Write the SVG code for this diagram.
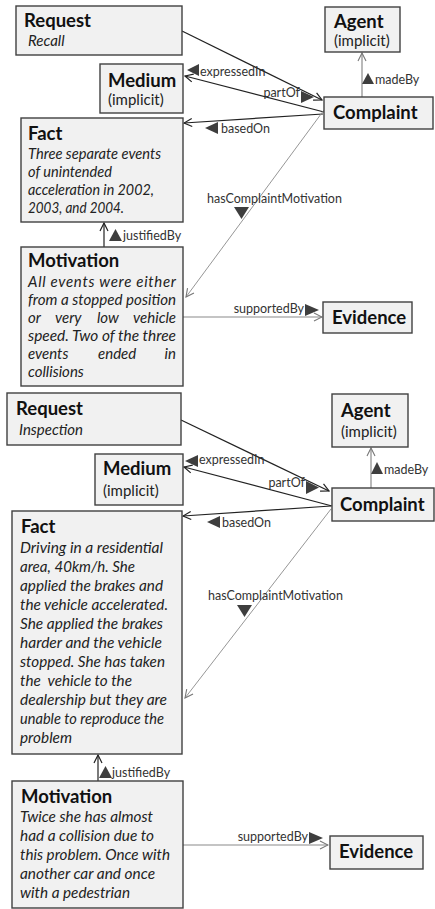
<svg xmlns="http://www.w3.org/2000/svg" width="435" height="909" viewBox="0 0 435 909">
  <style>
    .bg { fill: #ffffff; }
    .box { fill: #f1f1f1; stroke: #404040; stroke-width: 1.4; }
    .title { font-family: Lato, "Liberation Sans", sans-serif; font-weight: bold; font-size: 18.5px; fill: #111; }
    .sub { font-family: Lato, "Liberation Sans", sans-serif; font-size: 15px; fill: #222; }
    .body { font-family: Lato, "Liberation Sans", sans-serif; font-style: italic; font-size: 15px; fill: #222; }
    .lbl { font-family: Lato, "Liberation Sans", sans-serif; font-size: 12.5px; fill: #333; }
    .dark { fill: none; stroke: #222; stroke-width: 1.2; }
    .grey { fill: none; stroke: #8a8a8a; stroke-width: 1.2; }
    .thin { fill: none; stroke: #8a8a8a; stroke-width: 0.9; }
    .tri { fill: #3e3e3e; }
  </style>
  <defs>
    <marker id="openDark" viewBox="0 0 10 10" refX="9" refY="5" markerWidth="10" markerHeight="10" markerUnits="userSpaceOnUse" orient="auto">
      <path d="M1,1 L9,5 L1,9" fill="none" stroke="#222" stroke-width="1.2"/>
    </marker>
    <marker id="openGrey" viewBox="0 0 10 10" refX="9" refY="5" markerWidth="10" markerHeight="10" markerUnits="userSpaceOnUse" orient="auto">
      <path d="M1,1 L9,5 L1,9" fill="none" stroke="#777" stroke-width="1.1"/>
    </marker>
  </defs>
  <rect class="bg" x="0" y="0" width="435" height="909"/>

  <!-- ===== Recall case ===== -->
  <g id="connectors-recall">
    <line class="dark" x1="182" y1="31" x2="322" y2="100" marker-end="url(#openDark)"/>
    <text class="lbl" x="300" y="97" text-anchor="end">partOf</text>
    <polygon class="tri" points="301,91 314,97 301,103"/>

    <line class="dark" x1="324" y1="112" x2="185" y2="76" marker-end="url(#openDark)"/>
    <polygon class="tri" points="187,70 199,64 199,76"/>
    <text class="lbl" x="200" y="76">expressedIn</text>

    <line class="grey" x1="362" y1="97" x2="362" y2="53" marker-end="url(#openGrey)"/>
    <polygon class="tri" points="362,84 368,73 374,84"/>
    <text class="lbl" x="375" y="84">madeBy</text>

    <line class="dark" x1="323" y1="114" x2="184" y2="123" marker-end="url(#openDark)"/>
    <polygon class="tri" points="205,128 218,122 218,134"/>
    <text class="lbl" x="221" y="133">basedOn</text>

    <line class="thin" x1="324" y1="110" x2="186" y2="297" marker-end="url(#openGrey)"/>
    <text class="lbl" x="207" y="203">hasComplaintMotivation</text>
    <polygon class="tri" points="234,207 249,207 241.5,219"/>

    <line class="dark" x1="104" y1="247" x2="104" y2="223" marker-end="url(#openDark)"/>
    <polygon class="tri" points="109,241 115.5,229 122,241"/>
    <text class="lbl" x="123" y="240">justifiedBy</text>

    <line class="grey" x1="183" y1="317" x2="322" y2="317" marker-end="url(#openGrey)"/>
    <text class="lbl" x="304" y="313" text-anchor="end">supportedBy</text>
    <polygon class="tri" points="305,304 319,310 305,316"/>
  </g>

  <g id="request-recall">
    <rect class="box" x="16" y="6" width="166" height="49"/>
    <text class="title" x="24" y="27">Request</text>
    <text class="body" x="28" y="46">Recall</text>
  </g>
  <g id="medium-recall">
    <rect class="box" x="100" y="64" width="83" height="49"/>
    <text class="title" x="108" y="87">Medium</text>
    <text class="sub" x="108" y="105">(implicit)</text>
  </g>
  <g id="agent-recall">
    <rect class="box" x="325" y="7" width="75" height="45"/>
    <text class="title" x="334" y="28">Agent</text>
    <text class="sub" x="334" y="46">(implicit)</text>
  </g>
  <g id="complaint-recall">
    <rect class="box" x="324" y="97" width="109" height="32"/>
    <text class="title" x="333" y="119">Complaint</text>
  </g>
  <g id="fact-recall">
    <rect class="box" x="21" y="118" width="162" height="104"/>
    <text class="title" x="28" y="140">Fact</text>
    <text class="body" x="28" y="159" textLength="133" lengthAdjust="spacingAndGlyphs">Three separate events</text>
    <text class="body" x="28" y="177" textLength="84" lengthAdjust="spacingAndGlyphs">of unintended</text>
    <text class="body" x="28" y="195" textLength="126" lengthAdjust="spacingAndGlyphs">acceleration in 2002,</text>
    <text class="body" x="28" y="213" textLength="96" lengthAdjust="spacingAndGlyphs">2003, and 2004.</text>
  </g>
  <g id="motivation-recall">
    <rect class="box" x="21" y="247" width="162" height="139"/>
    <text class="title" x="28" y="267">Motivation</text>
    <text class="body" x="28" y="287" textLength="148" lengthAdjust="spacing">All events were either</text>
    <text class="body" x="28" y="305" textLength="148" lengthAdjust="spacingAndGlyphs">from a stopped position</text>
    <text class="body" x="28" y="323">or</text>
    <text class="body" x="55" y="323">very</text>
    <text class="body" x="97" y="323">low</text>
    <text class="body" x="176" y="323" text-anchor="end">vehicle</text>
    <text class="body" x="28" y="341" textLength="148" lengthAdjust="spacingAndGlyphs">speed. Two of the three</text>
    <text class="body" x="28" y="359">events</text>
    <text class="body" x="98" y="359">ended</text>
    <text class="body" x="176" y="359" text-anchor="end">in</text>
    <text class="body" x="28" y="377">collisions</text>
  </g>
  <g id="evidence-recall">
    <rect class="box" x="323" y="302" width="89" height="31"/>
    <text class="title" x="332" y="324">Evidence</text>
  </g>

  <!-- ===== Inspection case ===== -->
  <g id="connectors-inspection">
    <line class="dark" x1="181" y1="420" x2="329" y2="491" marker-end="url(#openDark)"/>
    <text class="lbl" x="305" y="487" text-anchor="end">partOf</text>
    <polygon class="tri" points="306,481 319,487.5 306,494"/>

    <line class="dark" x1="332" y1="506" x2="184" y2="467" marker-end="url(#openDark)"/>
    <polygon class="tri" points="185,461 198,455 198,467"/>
    <text class="lbl" x="199" y="464">expressedIn</text>

    <line class="grey" x1="371" y1="488" x2="371" y2="448" marker-end="url(#openGrey)"/>
    <polygon class="tri" points="371,474 377,462 383,474"/>
    <text class="lbl" x="384" y="474">madeBy</text>

    <line class="dark" x1="331" y1="506" x2="183" y2="516" marker-end="url(#openDark)"/>
    <polygon class="tri" points="207,522 220,516 220,528"/>
    <text class="lbl" x="222" y="527">basedOn</text>

    <line class="thin" x1="331" y1="509" x2="185" y2="698" marker-end="url(#openGrey)"/>
    <text class="lbl" x="208" y="600">hasComplaintMotivation</text>
    <polygon class="tri" points="237,605 252,605 244.5,617"/>

    <line class="dark" x1="98" y1="781" x2="98" y2="755" marker-end="url(#openDark)"/>
    <polygon class="tri" points="99,778 105.5,766 112,778"/>
    <text class="lbl" x="112" y="777">justifiedBy</text>

    <line class="grey" x1="183" y1="845" x2="328" y2="845" marker-end="url(#openGrey)"/>
    <text class="lbl" x="308" y="841" text-anchor="end">supportedBy</text>
    <polygon class="tri" points="309,832 323,838 309,844"/>
  </g>

  <g id="request-inspection">
    <rect class="box" x="7" y="393" width="174" height="52"/>
    <text class="title" x="16" y="415">Request</text>
    <text class="body" x="19" y="435">Inspection</text>
  </g>
  <g id="medium-inspection">
    <rect class="box" x="95" y="454" width="88" height="51"/>
    <text class="title" x="103" y="475">Medium</text>
    <text class="sub" x="103" y="496">(implicit)</text>
  </g>
  <g id="agent-inspection">
    <rect class="box" x="332" y="394" width="76" height="53"/>
    <text class="title" x="341" y="417">Agent</text>
    <text class="sub" x="341" y="437">(implicit)</text>
  </g>
  <g id="complaint-inspection">
    <rect class="box" x="332" y="488" width="102" height="33"/>
    <text class="title" x="340" y="511">Complaint</text>
  </g>
  <g id="fact-inspection">
    <rect class="box" x="12" y="511" width="170" height="243"/>
    <text class="title" x="21" y="533">Fact</text>
    <text class="body" x="20" y="553" textLength="143" lengthAdjust="spacingAndGlyphs">Driving in a residential</text>
    <text class="body" x="20" y="572" textLength="115" lengthAdjust="spacingAndGlyphs">area, 40km/h. She</text>
    <text class="body" x="20" y="591" textLength="143" lengthAdjust="spacingAndGlyphs">applied the brakes and</text>
    <text class="body" x="20" y="610" textLength="148" lengthAdjust="spacingAndGlyphs">the vehicle accelerated.</text>
    <text class="body" x="20" y="629" textLength="143" lengthAdjust="spacingAndGlyphs">She applied the brakes</text>
    <text class="body" x="20" y="648" textLength="142" lengthAdjust="spacingAndGlyphs">harder and the vehicle</text>
    <text class="body" x="20" y="667" textLength="145" lengthAdjust="spacingAndGlyphs">stopped. She has taken</text>
    <text class="body" x="20" y="686" textLength="112" lengthAdjust="spacingAndGlyphs" xml:space="preserve">the  vehicle to the</text>
    <text class="body" x="20" y="705" textLength="147" lengthAdjust="spacingAndGlyphs">dealership but they are</text>
    <text class="body" x="20" y="724" textLength="144" lengthAdjust="spacingAndGlyphs">unable to reproduce the</text>
    <text class="body" x="20" y="743" textLength="52" lengthAdjust="spacingAndGlyphs">problem</text>
  </g>
  <g id="motivation-inspection">
    <rect class="box" x="12" y="781" width="171" height="127"/>
    <text class="title" x="21" y="803">Motivation</text>
    <text class="body" x="20" y="822" textLength="133" lengthAdjust="spacingAndGlyphs">Twice she has almost</text>
    <text class="body" x="20" y="841" textLength="134" lengthAdjust="spacingAndGlyphs">had a collision due to</text>
    <text class="body" x="20" y="860" textLength="150" lengthAdjust="spacingAndGlyphs">this problem. Once with</text>
    <text class="body" x="20" y="879" textLength="135" lengthAdjust="spacingAndGlyphs">another car and once</text>
    <text class="body" x="20" y="898" textLength="110" lengthAdjust="spacingAndGlyphs">with a pedestrian</text>
  </g>
  <g id="evidence-inspection">
    <rect class="box" x="330" y="836" width="93" height="33"/>
    <text class="title" x="339" y="858">Evidence</text>
  </g>
</svg>
